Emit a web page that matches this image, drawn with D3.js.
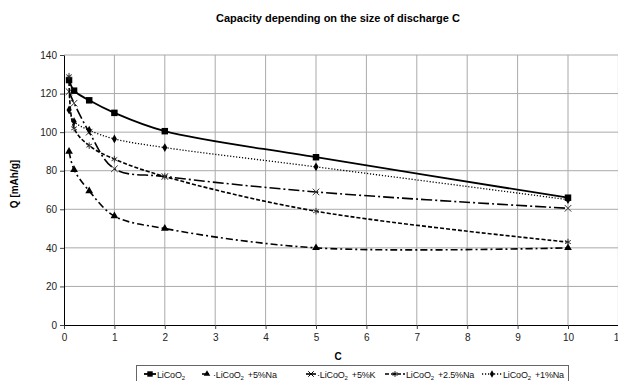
<!DOCTYPE html>
<html>
<head>
<meta charset="utf-8">
<script src="https://cdn.jsdelivr.net/npm/d3@7"></script>
<style>
  body { margin: 0; background: #fff; }
  text { font-family: "Liberation Sans", Arial, sans-serif; }
</style>
</head>
<body>
<div id="chart"></div>
<script>
// data
const cRates = [0.1, 0.2, 0.5, 1, 2, 5, 10];
const qLiCoO2 = [127, 121.5, 116.5, 110, 100.5, 87, 66];
const qNa5 = [90, 80.5, 69.5, 56.5, 50, 40, 40];
const qK5 = [121, 115, 100, 81, 77, 69, 60.5];
const qNa25 = [129, 102, 93, 86, 77, 59, 43];
const qNa1 = [111.5, 105.5, 101, 96.5, 92, 82, 65];
const xTicks = d3.range(0, 12);
const yTicks = d3.range(0, 141, 20);
const seriesPre = ['', '·', '·', '', ''];
const seriesSuffix = ['', '+5%Na', '+5%K', '+2.5%Na', '+1%Na'];

const series = [
  { values: qLiCoO2, symbol: d3.symbolSquare, size: 42, dash: null, width: 1.8, fill: true },
  { values: qNa5, symbol: d3.symbolTriangle, size: 26, dash: '7,3,2,3', width: 1.6, fill: true },
  { values: qK5, symbol: d3.symbolX, size: 30, dash: '11,3,2,3', width: 1.6, fill: false },
  { values: qNa25, symbol: d3.symbolAsterisk, size: 30, dash: '4,2', width: 1.6, fill: false },
  { values: qNa1, symbol: d3.symbolDiamond, size: 22, dash: '1.2,1.8', width: 1.3, fill: true }
];

const W = 618, H = 381;
const svg = d3.select('#chart').append('svg').attr('width', W).attr('height', H);

const x = d3.scaleLinear().domain([0, 11]).range([64, 618.4]);
const y = d3.scaleLinear().domain([0, 140]).range([325, 55]);

// grid
svg.append('g').selectAll('line').data(xTicks.slice(1)).join('line')
  .attr('x1', d => x(d)).attr('x2', d => x(d)).attr('y1', y(0)).attr('y2', y(140))
  .attr('stroke', '#aaa').attr('stroke-width', 1);
svg.append('g').selectAll('line').data(yTicks.slice(1)).join('line')
  .attr('x1', x(0)).attr('x2', W).attr('y1', d => y(d)).attr('y2', d => y(d))
  .attr('stroke', '#aaa').attr('stroke-width', 1);

// axes
const xAxis = svg.append('g').attr('transform', `translate(0,${y(0)})`)
  .call(d3.axisBottom(x).tickValues(xTicks).tickSize(4).tickSizeOuter(0));
const yAxis = svg.append('g').attr('transform', `translate(${x(0)},0)`)
  .call(d3.axisLeft(y).tickValues(yTicks).tickSize(4).tickSizeOuter(0));
[xAxis, yAxis].forEach(a => {
  a.select('.domain').attr('stroke', '#000');
  a.selectAll('.tick line').attr('stroke', '#444');
  a.selectAll('text').attr('font-size', 10).attr('fill', '#222')
    .style('font-family', '"Liberation Sans", Arial, sans-serif');
});
xAxis.selectAll('text').attr('dy', '0.9em');

// lines
const line = d3.line().x((d, i) => x(cRates[i])).y(d => y(d)).curve(d3.curveCatmullRom.alpha(0.5));
series.forEach(s => {
  svg.append('path').datum(s.values).attr('d', line)
    .attr('fill', 'none').attr('stroke', '#000').attr('stroke-width', s.width)
    .attr('stroke-dasharray', s.dash);
  svg.append('g').selectAll('path').data(s.values).join('path')
    .attr('transform', (d, i) => `translate(${x(cRates[i])},${y(d)})`)
    .attr('d', d3.symbol().type(s.symbol).size(s.size))
    .attr('fill', s.fill ? '#000' : 'none')
    .attr('stroke', s.fill ? 'none' : '#333').attr('stroke-width', 1);
});

// title and labels
svg.append('text').attr('x', 338).attr('y', 22).attr('text-anchor', 'middle')
  .attr('font-size', 11).attr('font-weight', 'bold').text('Capacity depending on the size of discharge C');
svg.append('text').attr('x', 338).attr('y', 360).attr('text-anchor', 'middle')
  .attr('font-size', 10).attr('font-weight', 'bold').text('C');
svg.append('text').attr('transform', 'translate(18,184) rotate(-90)').attr('text-anchor', 'middle')
  .attr('font-size', 10).attr('font-weight', 'bold').text('Q [mAh/g]');

// legend
const legend = svg.append('g');
const legBox = legend.append('rect').attr('x', 136.5).attr('y', 365.5).attr('height', 17)
  .attr('fill', '#fff').attr('stroke', '#666');
const legLine = [[144, 156], [202, 212], [306, 316], [385, 405], [482, 502]];
let legEnd = 0;
series.forEach((s, i) => {
  const g = legend.append('g').attr('transform', 'translate(0,374)');
  const [a, b] = legLine[i];
  g.append('line').attr('x1', a).attr('x2', b).attr('y1', 0).attr('y2', 0)
    .attr('stroke', '#000').attr('stroke-width', s.width).attr('stroke-dasharray', s.dash);
  g.append('path').attr('transform', `translate(${(a + b) / 2},0)`)
    .attr('d', d3.symbol().type(s.symbol).size(s.size * 0.7))
    .attr('fill', s.fill ? '#000' : 'none').attr('stroke', s.fill ? 'none' : '#000');
  const t = g.append('text').attr('x', b + 1).attr('y', 3.5).attr('font-size', 9)
    .attr('letter-spacing', -0.15).attr('fill', '#111');
  t.append('tspan').text(seriesPre[i] + 'LiCoO');
  t.append('tspan').attr('font-size', 6).attr('dy', 2).text('2');
  if (seriesSuffix[i]) t.append('tspan').attr('dx', 4).attr('dy', -2).text(seriesSuffix[i]);
  legEnd = Math.max(legEnd, b + 1 + t.node().getComputedTextLength());
});
legBox.attr('width', Math.max(432, legEnd + 4 - 136.5));
</script>
</body>
</html>
